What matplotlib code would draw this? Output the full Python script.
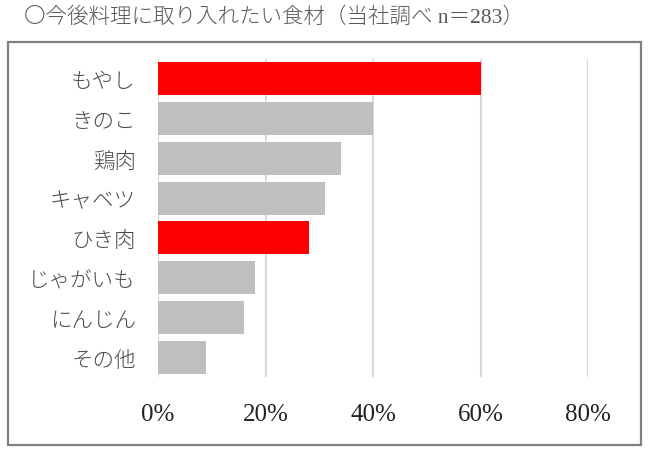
import matplotlib
matplotlib.use("Agg")
import matplotlib.pyplot as plt
from matplotlib.patches import Rectangle

plt.rcParams['font.family'] = ['Noto Sans CJK JP', 'DejaVu Sans']

categories = ["もやし", "きのこ", "鶏肉", "キャベツ", "ひき肉", "じゃがいも", "にんじん", "その他"]
values = [60, 40, 34, 31, 28, 18, 16, 9]
highlight = [True, False, False, False, True, False, False, False]
xticks = [0, 20, 40, 60, 80]
xtick_labels = ["0%", "20%", "40%", "60%", "80%"]
title = "〇今後料理に取り入れたい食材（当社調べ n＝283）"

W, H = 650, 452
fig = plt.figure(figsize=(W / 100, H / 100), dpi=100)
ax = fig.add_axes([158 / W, 1 - 378 / H, (588 - 158) / W, (378 - 60) / H])

colors = ["#ff0000" if h else "#bfbfbf" for h in highlight]
ypos = list(range(len(categories)))
ax.barh(ypos, values, height=0.83, color=colors, zorder=3)
ax.set_ylim(len(categories) - 0.5, -0.5)
ax.set_xlim(0, 80)
ax.set_yticks(ypos)
ax.set_yticklabels(categories, fontsize=15.5, color="#4a4a4a", fontweight="light")
ax.set_xticks(xticks)
ax.set_xticklabels(xtick_labels, fontsize=18, color="#222222", family=["Liberation Serif"])
ax.tick_params(axis="x", length=0, pad=19)
ax.tick_params(axis="y", length=0, pad=16)
ax.grid(axis="x", color="#d9d9d9", linewidth=1.5, zorder=0)
for s in ax.spines.values():
    s.set_visible(False)

fig.patches.append(Rectangle((8 / W, 1 - 446 / H), 633 / W, 403 / H, transform=fig.transFigure,
                             fill=False, edgecolor="#808080", linewidth=1.6))
fig.text(24 / W, 1 - 18 / H, title, fontsize=15.5, color="#595959", va="center", ha="left",
         fontweight="light", family=["Liberation Serif", "Noto Sans CJK JP", "DejaVu Sans"])

fig.savefig("out.png", dpi=100)
